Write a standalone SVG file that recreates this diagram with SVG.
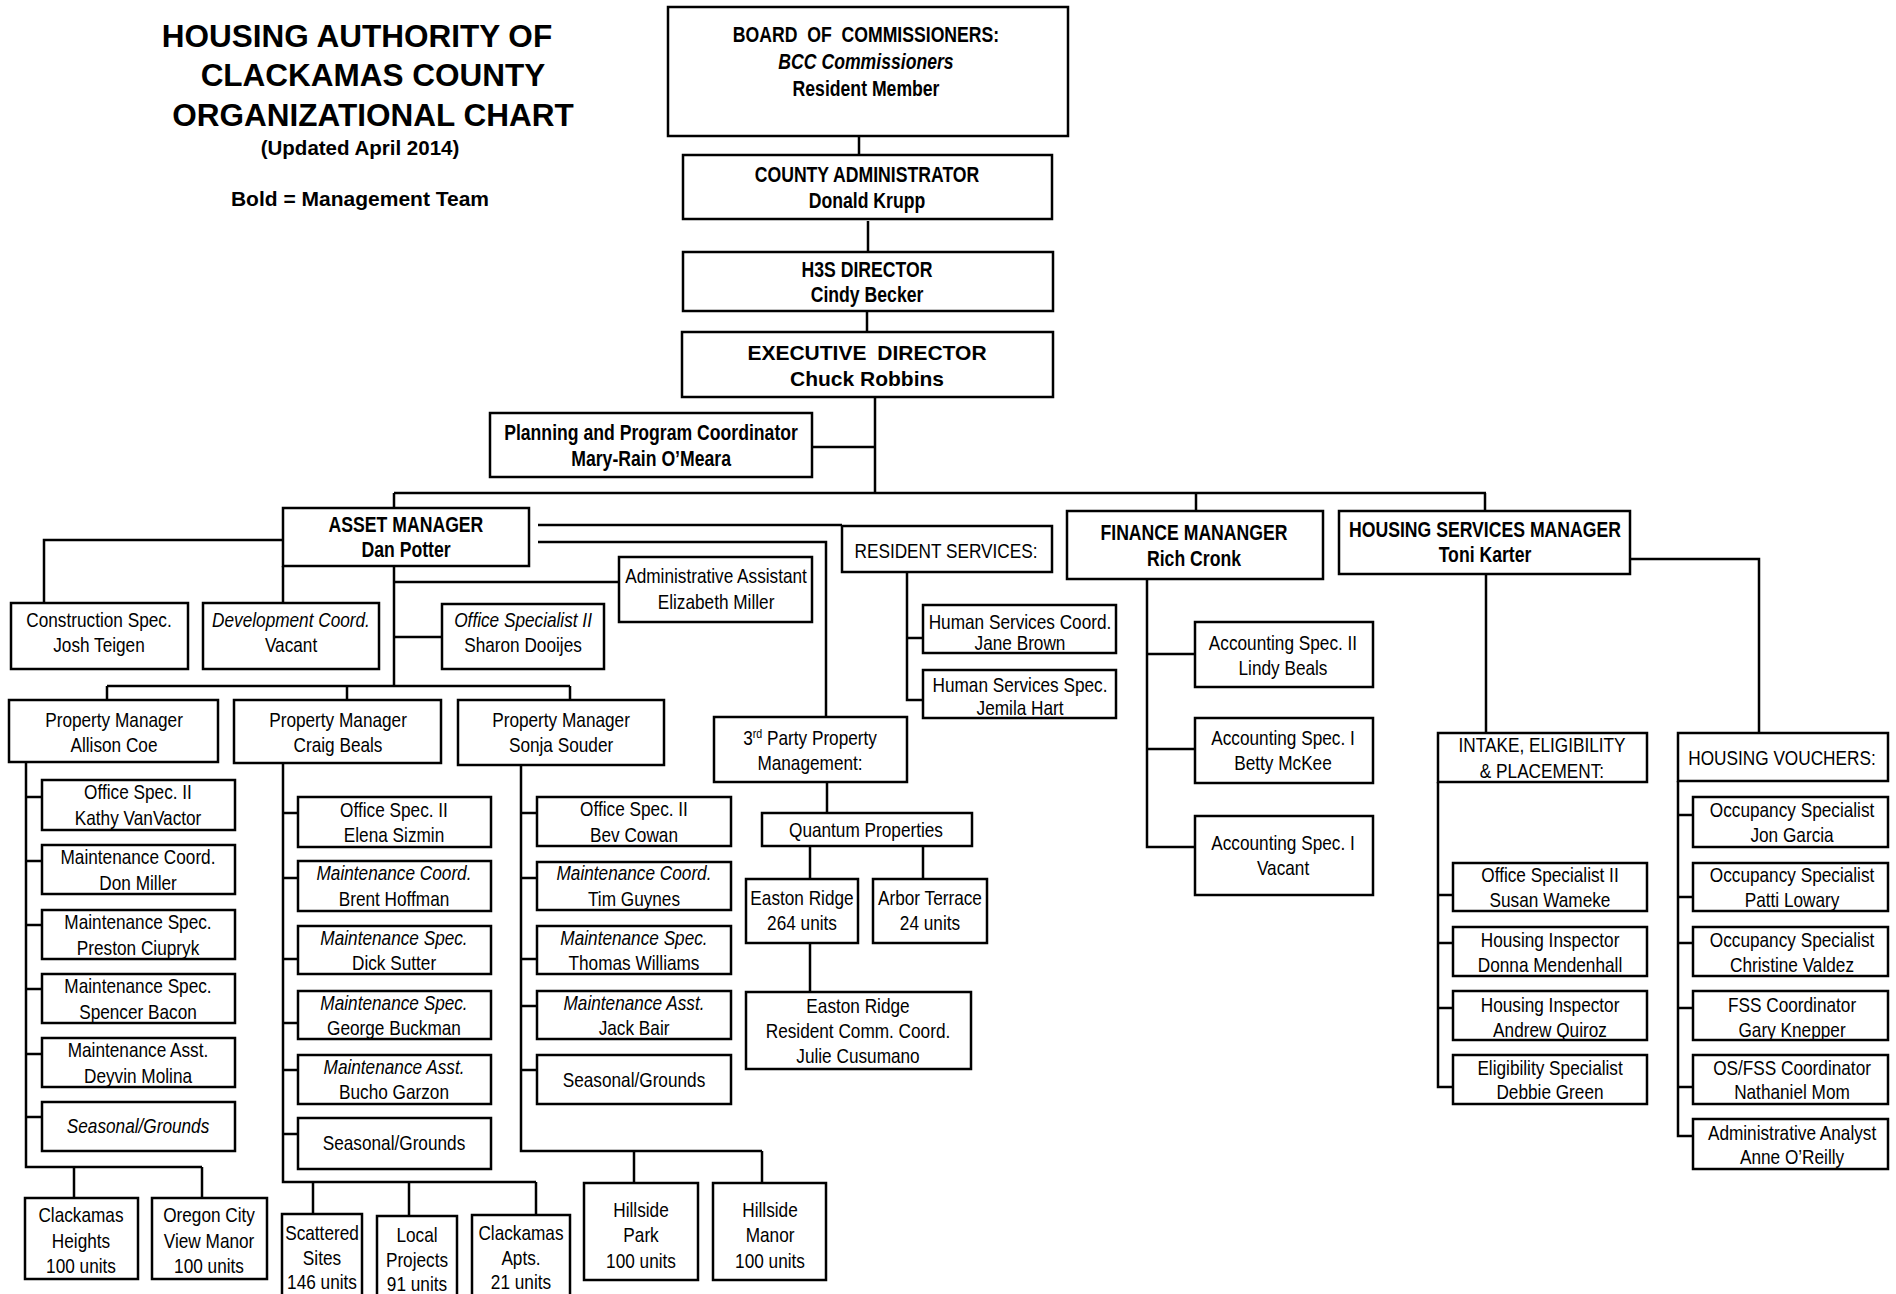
<svg xmlns="http://www.w3.org/2000/svg" width="1896" height="1294" viewBox="0 0 1896 1294">
<style>
.b{fill:#fff;stroke:#000;stroke-width:2.5}
.c{fill:none;stroke:#000;stroke-width:2.5}
text{font-family:"Liberation Sans",Arial,sans-serif;font-size:21px;fill:#000;text-anchor:middle;transform:scaleX(0.82);transform-box:fill-box;transform-origin:center}
.bd{font-weight:bold;font-size:21.5px}
.it{font-style:italic}
.tt{font-weight:bold;transform:none}
.t1{font-size:31.5px}
.t2{font-size:20.5px}
.t3{font-size:21px}
.sup{font-size:13px}
</style>
<rect x="0" y="0" width="1896" height="1294" fill="#fff"/>
<g id="connectors" class="c">
<path d="M859 136V155M868 221V251M867 311V332M875 397V493M812 447H875M394 493H1486M394 493V508M1196 493V511M1485 493V511M283 540H44V603M283 566V603M394 566V686M394 582H619M394 637H442M538 525H842M538 542H826V717M107 686H570M107 686V700M347 686V700M570 686V700"/>
<path d="M26 762V1167H202M74 1167V1198M202 1167V1198M26 797H42M26 861H42M26 925H42M26 989H42M26 1054H42M26 1117H42"/>
<path d="M283 763V1182H536M313 1182V1214M409 1182V1216M536 1182V1215M283 813H298M283 878H298M283 959H298M283 1023H298M283 1070H298M283 1134H298"/>
<path d="M521 765V1151H762M634 1151V1183M762 1151V1183M521 813H537M521 878H537M521 959H537M521 1006H537M521 1070H537"/>
<path d="M827 782V813M810 846V879M923 846V879M810 943V992"/>
<path d="M907 572V700H923M907 638H923"/>
<path d="M1147 579V847H1195M1147 654H1195M1147 749H1195"/>
<path d="M1486 574V733M1630 559H1759V733"/>
<path d="M1438 782V1087H1453M1438 895H1453M1438 943H1453M1438 1008H1453"/>
<path d="M1678 781V1136H1693M1678 815H1693M1678 897H1693M1678 943H1693M1678 1008H1693M1678 1087H1693"/>
</g>
<g id="title">
<text class="tt t1" x="357" y="47">HOUSING AUTHORITY OF</text>
<text class="tt t1" x="373" y="86">CLACKAMAS COUNTY</text>
<text class="tt t1" x="373" y="126">ORGANIZATIONAL CHART</text>
<text class="tt t2" x="360" y="155">(Updated April 2014)</text>
<text class="tt t3" x="360" y="206">Bold = Management Team</text>
</g>
<g id="board"><rect class="b" x="668" y="7" width="400" height="129"/><text class="bd" x="866" y="42" word-spacing="6">BOARD OF COMMISSIONERS:</text><text class="bd it" x="866" y="69">BCC Commissioners</text><text class="bd" x="866" y="96">Resident Member</text></g>
<g id="county-admin"><rect class="b" x="683" y="155" width="369" height="64"/><text class="bd" x="867" y="182">COUNTY ADMINISTRATOR</text><text class="bd" x="867" y="208">Donald Krupp</text></g>
<g id="h3s-director"><rect class="b" x="683" y="252" width="370" height="59"/><text class="bd" x="867" y="277">H3S DIRECTOR</text><text class="bd" x="867" y="302">Cindy Becker</text></g>
<g id="executive-director"><rect class="b" x="682" y="332" width="371" height="65"/><text class="tt t3" x="867" y="360" word-spacing="5">EXECUTIVE DIRECTOR</text><text class="tt t3" x="867" y="386">Chuck Robbins</text></g>
<g id="planning"><rect class="b" x="490" y="413" width="322" height="64"/><text class="bd" x="651" y="440">Planning and Program Coordinator</text><text class="bd" x="651" y="466">Mary-Rain O’Meara</text></g>
<g id="asset-manager"><rect class="b" x="283" y="508" width="246" height="58"/><text class="bd" x="406" y="532">ASSET MANAGER</text><text class="bd" x="406" y="557">Dan Potter</text></g>
<g id="construction-spec"><rect class="b" x="11" y="603" width="177" height="66"/><text x="99" y="627">Construction Spec.</text><text x="99" y="652">Josh Teigen</text></g>
<g id="development-coord"><rect class="b" x="203" y="603" width="176" height="66"/><text class="it" x="291" y="627">Development Coord.</text><text x="291" y="652">Vacant</text></g>
<g id="office-specialist-sharon"><rect class="b" x="442" y="604" width="162" height="65"/><text class="it" x="523" y="627">Office Specialist II</text><text x="523" y="652">Sharon Dooijes</text></g>
<g id="admin-assistant"><rect class="b" x="619" y="557" width="193" height="65"/><text x="716" y="583">Administrative Assistant</text><text x="716" y="609">Elizabeth Miller</text></g>
<g id="resident-services"><rect class="b" x="842" y="526" width="210" height="46"/><text x="946" y="558">RESIDENT SERVICES:</text></g>
<g id="hs-coord"><rect class="b" x="923" y="605" width="193" height="48"/><text x="1020" y="629">Human Services Coord.</text><text x="1020" y="650">Jane Brown</text></g>
<g id="hs-spec"><rect class="b" x="923" y="670" width="193" height="48"/><text x="1020" y="692">Human Services Spec.</text><text x="1020" y="715">Jemila Hart</text></g>
<g id="finance-manager"><rect class="b" x="1067" y="511" width="256" height="68"/><text class="bd" x="1194" y="540">FINANCE MANANGER</text><text class="bd" x="1194" y="566">Rich Cronk</text></g>
<g id="housing-services-manager"><rect class="b" x="1339" y="511" width="291" height="63"/><text class="bd" x="1485" y="537">HOUSING SERVICES MANAGER</text><text class="bd" x="1485" y="562">Toni Karter</text></g>
<g id="acct-lindy"><rect class="b" x="1195" y="622" width="178" height="65"/><text x="1283" y="650">Accounting Spec. II</text><text x="1283" y="675">Lindy Beals</text></g>
<g id="acct-betty"><rect class="b" x="1195" y="718" width="178" height="65"/><text x="1283" y="745">Accounting Spec. I</text><text x="1283" y="770">Betty McKee</text></g>
<g id="acct-vacant"><rect class="b" x="1195" y="816" width="178" height="79"/><text x="1283" y="850">Accounting Spec. I</text><text x="1283" y="875">Vacant</text></g>
<g id="intake"><rect class="b" x="1438" y="733" width="209" height="49"/><text x="1542" y="752">INTAKE, ELIGIBILITY</text><text x="1542" y="778">&amp; PLACEMENT:</text></g>
<g id="susan"><rect class="b" x="1453" y="863" width="194" height="48"/><text x="1550" y="882">Office Specialist II</text><text x="1550" y="907">Susan Wameke</text></g>
<g id="donna"><rect class="b" x="1453" y="927" width="194" height="49"/><text x="1550" y="947">Housing Inspector</text><text x="1550" y="972">Donna Mendenhall</text></g>
<g id="andrew"><rect class="b" x="1453" y="991" width="194" height="49"/><text x="1550" y="1012">Housing Inspector</text><text x="1550" y="1037">Andrew Quiroz</text></g>
<g id="debbie"><rect class="b" x="1453" y="1055" width="194" height="49"/><text x="1550" y="1075">Eligibility Specialist</text><text x="1550" y="1099">Debbie Green</text></g>
<g id="housing-vouchers"><rect class="b" x="1678" y="733" width="210" height="48"/><text x="1782" y="765">HOUSING VOUCHERS:</text></g>
<g id="jon"><rect class="b" x="1693" y="797" width="195" height="50"/><text x="1792" y="817">Occupancy Specialist</text><text x="1792" y="842">Jon Garcia</text></g>
<g id="patti"><rect class="b" x="1693" y="863" width="195" height="48"/><text x="1792" y="882">Occupancy Specialist</text><text x="1792" y="907">Patti Lowary</text></g>
<g id="christine"><rect class="b" x="1693" y="927" width="195" height="49"/><text x="1792" y="947">Occupancy Specialist</text><text x="1792" y="972">Christine Valdez</text></g>
<g id="gary"><rect class="b" x="1693" y="991" width="195" height="49"/><text x="1792" y="1012">FSS Coordinator</text><text x="1792" y="1037">Gary Knepper</text></g>
<g id="nathaniel"><rect class="b" x="1693" y="1055" width="195" height="49"/><text x="1792" y="1075">OS/FSS Coordinator</text><text x="1792" y="1099">Nathaniel Mom</text></g>
<g id="anne"><rect class="b" x="1693" y="1119" width="195" height="50"/><text x="1792" y="1140">Administrative Analyst</text><text x="1792" y="1164">Anne O’Reilly</text></g>
<g id="pm-allison"><rect class="b" x="9" y="700" width="209" height="62"/><text x="114" y="727">Property Manager</text><text x="114" y="752">Allison Coe</text></g>
<g id="pm-craig"><rect class="b" x="234" y="700" width="207" height="63"/><text x="338" y="727">Property Manager</text><text x="338" y="752">Craig Beals</text></g>
<g id="pm-sonja"><rect class="b" x="458" y="700" width="206" height="65"/><text x="561" y="727">Property Manager</text><text x="561" y="752">Sonja Souder</text></g>
<g id="kathy"><rect class="b" x="42" y="780" width="193" height="50"/><text x="138" y="799">Office Spec. II</text><text x="138" y="825">Kathy VanVactor</text></g>
<g id="don"><rect class="b" x="42" y="845" width="193" height="49"/><text x="138" y="864">Maintenance Coord.</text><text x="138" y="890">Don Miller</text></g>
<g id="preston"><rect class="b" x="42" y="910" width="193" height="49"/><text x="138" y="929">Maintenance Spec.</text><text x="138" y="955">Preston Ciupryk</text></g>
<g id="spencer"><rect class="b" x="42" y="974" width="193" height="49"/><text x="138" y="993">Maintenance Spec.</text><text x="138" y="1019">Spencer Bacon</text></g>
<g id="deyvin"><rect class="b" x="42" y="1038" width="193" height="49"/><text x="138" y="1057">Maintenance Asst.</text><text x="138" y="1083">Deyvin Molina</text></g>
<g id="allison-seasonal"><rect class="b" x="42" y="1102" width="193" height="49"/><text class="it" x="138" y="1133">Seasonal/Grounds</text></g>
<g id="elena"><rect class="b" x="298" y="797" width="193" height="50"/><text x="394" y="817">Office Spec. II</text><text x="394" y="842">Elena Sizmin</text></g>
<g id="brent"><rect class="b" x="298" y="861" width="193" height="50"/><text class="it" x="394" y="880">Maintenance Coord.</text><text x="394" y="906">Brent Hoffman</text></g>
<g id="dick"><rect class="b" x="298" y="926" width="193" height="48"/><text class="it" x="394" y="945">Maintenance Spec.</text><text x="394" y="970">Dick Sutter</text></g>
<g id="george"><rect class="b" x="298" y="991" width="193" height="48"/><text class="it" x="394" y="1010">Maintenance Spec.</text><text x="394" y="1035">George Buckman</text></g>
<g id="bucho"><rect class="b" x="298" y="1055" width="193" height="49"/><text class="it" x="394" y="1074">Maintenance Asst.</text><text x="394" y="1099">Bucho Garzon</text></g>
<g id="craig-seasonal"><rect class="b" x="298" y="1118" width="193" height="51"/><text x="394" y="1150">Seasonal/Grounds</text></g>
<g id="bev"><rect class="b" x="537" y="797" width="194" height="49"/><text x="634" y="816">Office Spec. II</text><text x="634" y="842">Bev Cowan</text></g>
<g id="tim"><rect class="b" x="537" y="862" width="194" height="48"/><text class="it" x="634" y="880">Maintenance Coord.</text><text x="634" y="906">Tim Guynes</text></g>
<g id="thomas"><rect class="b" x="537" y="926" width="194" height="48"/><text class="it" x="634" y="945">Maintenance Spec.</text><text x="634" y="970">Thomas Williams</text></g>
<g id="jack"><rect class="b" x="537" y="991" width="194" height="48"/><text class="it" x="634" y="1010">Maintenance Asst.</text><text x="634" y="1035">Jack Bair</text></g>
<g id="sonja-seasonal"><rect class="b" x="537" y="1055" width="194" height="49"/><text x="634" y="1087">Seasonal/Grounds</text></g>
<g id="clackamas-heights"><rect class="b" x="25" y="1198" width="113" height="81"/><text x="81" y="1222">Clackamas</text><text x="81" y="1248">Heights</text><text x="81" y="1273">100 units</text></g>
<g id="oregon-city"><rect class="b" x="152" y="1198" width="115" height="81"/><text x="209" y="1222">Oregon City</text><text x="209" y="1248">View Manor</text><text x="209" y="1273">100 units</text></g>
<g id="scattered-sites"><rect class="b" x="282" y="1214" width="80" height="90"/><text x="322" y="1240">Scattered</text><text x="322" y="1265">Sites</text><text x="322" y="1289">146 units</text></g>
<g id="local-projects"><rect class="b" x="377" y="1216" width="80" height="90"/><text x="417" y="1242">Local</text><text x="417" y="1267">Projects</text><text x="417" y="1291">91 units</text></g>
<g id="clackamas-apts"><rect class="b" x="472" y="1215" width="98" height="90"/><text x="521" y="1240">Clackamas</text><text x="521" y="1265">Apts.</text><text x="521" y="1289">21 units</text></g>
<g id="hillside-park"><rect class="b" x="584" y="1183" width="114" height="97"/><text x="641" y="1217">Hillside</text><text x="641" y="1242">Park</text><text x="641" y="1268">100 units</text></g>
<g id="hillside-manor"><rect class="b" x="713" y="1183" width="113" height="97"/><text x="770" y="1217">Hillside</text><text x="770" y="1242">Manor</text><text x="770" y="1268">100 units</text></g>
<g id="third-party"><rect class="b" x="714" y="717" width="193" height="65"/><text x="810" y="745">3<tspan class="sup" dy="-7">rd</tspan><tspan dy="7"> Party Property</tspan></text><text x="810" y="770">Management:</text></g>
<g id="quantum"><rect class="b" x="762" y="813" width="210" height="33"/><text x="866" y="837">Quantum Properties</text></g>
<g id="easton-ridge"><rect class="b" x="746" y="879" width="112" height="64"/><text x="802" y="905">Easton Ridge</text><text x="802" y="930">264 units</text></g>
<g id="arbor-terrace"><rect class="b" x="873" y="879" width="114" height="64"/><text x="930" y="905">Arbor Terrace</text><text x="930" y="930">24 units</text></g>
<g id="easton-resident"><rect class="b" x="746" y="992" width="225" height="77"/><text x="858" y="1013">Easton Ridge</text><text x="858" y="1038">Resident Comm. Coord.</text><text x="858" y="1063">Julie Cusumano</text></g>
</svg>
